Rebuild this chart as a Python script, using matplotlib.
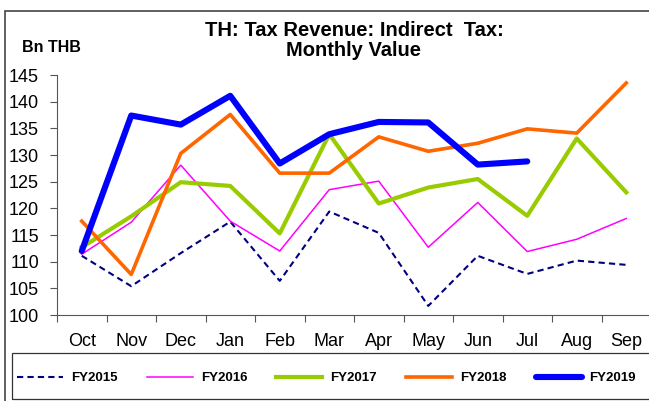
import numpy as np
import matplotlib.pyplot as plt
from matplotlib.patches import Rectangle

plt.rcParams['font.family'] = ['Liberation Sans', 'DejaVu Sans']

months = ['Oct', 'Nov', 'Dec', 'Jan', 'Feb', 'Mar', 'Apr', 'May', 'Jun', 'Jul', 'Aug', 'Sep']

# --- Monthly indirect tax revenue, Bn THB ---
fy2015 = [111.1, 105.4, 111.6, 117.5, 106.4, 119.4, 115.4, 101.7, 111.1, 107.7, 110.2, 109.4]
fy2016 = [111.4, 117.4, 128.1, 117.6, 112.0, 123.5, 125.1, 112.7, 121.1, 111.9, 114.2, 118.1]
fy2017 = [112.7, 118.5, 124.9, 124.2, 115.3, 133.9, 120.9, 123.9, 125.5, 118.6, 133.1, 123.0]
fy2018 = [117.6, 107.6, 130.3, 137.6, 126.6, 126.6, 133.4, 130.7, 132.2, 134.9, 134.1, 143.5]
fy2019 = [112.0, 137.4, 135.7, 141.1, 128.4, 133.9, 136.2, 136.1, 128.2, 128.8]

W, H = 649, 401
fig = plt.figure(figsize=(W/100, H/100), dpi=100)
ax = fig.add_axes([57/W, 1-315/H, 594/W, 240/H])

x = np.arange(len(months))
ax.plot(x, fy2015, color='#000080', lw=1.5, ls=(0, (3, 2)), label='FY2015')
ax.plot(x, fy2016, color='#FF00FF', lw=1.1, label='FY2016')
ax.plot(x, fy2017, color='#99CC00', lw=3, label='FY2017')
ax.plot(x, fy2018, color='#FF6600', lw=2.6, label='FY2018')
ax.plot(np.arange(len(fy2019)), fy2019, color='#0000FF', lw=4.4,
        solid_capstyle='round', label='FY2019')

ax.set_xlim(-0.5, 11.5)
ax.set_ylim(100, 145)
ax.set_yticks(np.arange(100, 146, 5))
ax.set_xticks(x)
ax.set_xticklabels(months)
ax.set_xticks(np.arange(-0.5, 12, 1), minor=True)
ax.tick_params(axis='x', which='major', length=0, labelsize=13, pad=13)
ax.tick_params(axis='x', which='minor', length=5, width=0.8, color='#555555')
ax.tick_params(axis='y', length=5, width=0.8, color='#555555', labelsize=13, pad=8)
for s in ['top', 'right']:
    ax.spines[s].set_visible(False)
for s in ['left', 'bottom']:
    ax.spines[s].set_color('#555555')
    ax.spines[s].set_linewidth(0.8)

fig.text(354/W, 1-30/H, 'TH: Tax Revenue: Indirect  Tax:', ha='center', va='center',
         fontsize=14.5, fontweight='bold')
fig.text(354/W, 1-51/H, 'Monthly Value', ha='center', va='center',
         fontsize=14.5, fontweight='bold')
fig.text(22/W, 1-47/H, 'Bn THB', ha='left', va='center', fontsize=11.5, fontweight='bold')

# outer frame and legend box
fig.patches.append(Rectangle((5/W, -0.05), 1.0, 1-10.5/H+0.05, transform=fig.transFigure,
                             fill=False, edgecolor='#444444', lw=1.2))
fig.patches.append(Rectangle((12/W, 1-399/H), 1.0, 46/H, transform=fig.transFigure,
                             fill=False, edgecolor='#333333', lw=0.9))

leg = fig.legend(loc='center left', bbox_to_anchor=(17/W, 1-378/H), ncol=5,
                 frameon=False, handlelength=3.5, handletextpad=0.6,
                 columnspacing=2.2, borderpad=0, borderaxespad=0,
                 prop={'weight': 'bold', 'size': 9.5})

fig.savefig('out.png', dpi=100)
